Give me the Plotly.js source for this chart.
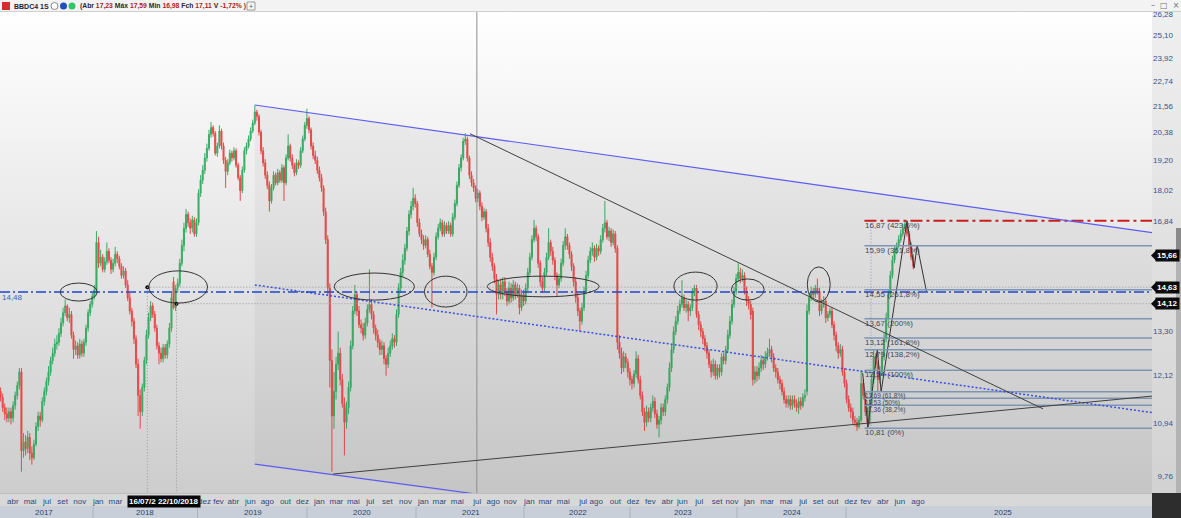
<!DOCTYPE html>
<html><head><meta charset="utf-8">
<script src="https://cdn.plot.ly/plotly-3.0.1.min.js"></script>
<style>
html,body{margin:0;padding:0;background:#fff;overflow:hidden;}
#wrap{position:relative;width:1181px;height:518px;}
.bg{position:absolute;box-sizing:border-box;}
#chart{position:absolute;left:0;top:0;width:1181px;height:518px;}
</style></head><body>
<div id="wrap">
 <div class="bg" style="left:0;top:0;width:1181px;height:12px;background:#f3f3f3;border-bottom:1px solid #cfcfcf"></div>
 <div class="bg" style="left:0;top:12px;width:1152px;height:481px;background:linear-gradient(#ffffff,#cdcdcd)"></div>
 <div class="bg" style="left:1152px;top:12px;width:29px;height:481px;background:linear-gradient(#efefef,#d2d2d2)"></div>
 <div class="bg" style="left:0;top:493px;width:1152px;height:13px;background:#d8d8d8;border-top:1px solid #bdbdbd"></div>
 <div class="bg" style="left:0;top:506px;width:1152px;height:12px;background:#c8cfd8"></div>
 <div class="bg" style="left:1152px;top:493px;width:29px;height:25px;background:#2d2d2d"></div>
 <div class="bg" style="left:1176px;top:228px;width:5px;height:265px;background:#b3b3b3"></div>
 <div class="bg" style="left:1176px;top:228px;width:5px;height:30px;background:#8a8a8a"></div>
 <div id="chart"></div>
</div>
<script>
// ---------------- weekly candles (BBDC4, 1S) ----------------
const firstWeek = '2017-03-10';
const opens = [
11.70,11.55,11.30,11.15,11.05,11.20,11.05,11.35,11.60,11.85,
12.20,10.30,10.50,10.35,10.60,10.25,10.15,10.45,10.85,11.10,
11.00,11.45,11.70,11.95,12.20,12.50,12.70,12.95,13.00,13.25,
13.55,13.85,14.05,13.70,13.80,13.20,12.80,12.90,12.65,12.95,
12.70,13.00,13.40,13.85,14.10,14.35,14.55,16.10,15.40,15.60,
15.20,15.45,15.80,15.50,15.20,15.40,15.70,15.55,15.30,15.00,
15.15,14.70,14.30,13.90,13.60,13.10,12.40,11.60,11.20,11.80,
12.50,13.20,13.70,14.05,13.80,13.40,12.90,12.70,12.55,12.85,
12.65,12.95,13.40,14.80,14.00,14.60,14.75,15.40,16.00,16.60,
17.10,16.80,16.60,16.90,16.40,16.80,17.90,18.40,18.80,19.30,
19.70,20.30,20.60,20.35,19.50,19.80,20.45,19.80,19.20,18.75,
19.10,19.50,19.30,19.60,19.00,18.50,18.00,18.80,19.60,19.80,
20.10,20.45,20.80,21.30,21.10,20.40,19.60,19.10,18.60,18.20,
17.60,18.10,18.60,18.30,18.70,18.40,18.90,18.30,19.30,19.80,
19.30,19.00,18.70,19.10,19.00,19.60,20.10,20.70,21.00,20.50,
19.80,19.40,19.20,18.80,18.50,18.10,17.20,16.20,14.60,12.50,
11.10,11.70,12.40,12.70,12.00,11.40,10.95,11.30,11.80,12.90,
13.90,14.40,13.90,13.50,13.40,13.20,13.55,13.95,14.10,13.80,
13.40,13.20,13.00,12.80,12.90,12.55,12.40,12.70,12.90,13.10,
13.00,13.80,14.60,15.10,15.50,15.90,16.50,17.10,17.40,17.70,
17.50,16.80,16.40,16.20,16.00,16.20,15.70,15.30,15.10,15.60,
16.30,16.60,16.80,16.40,16.70,16.50,16.70,16.40,17.00,17.50,
18.20,18.90,19.30,20.00,20.10,19.30,18.60,18.30,18.10,17.70,
17.90,17.40,17.00,17.20,16.60,16.10,15.60,15.30,14.90,14.40,
14.70,14.40,14.80,14.50,14.20,14.60,14.30,14.70,14.40,14.60,
14.00,14.40,14.20,14.60,15.10,15.60,16.20,16.60,16.30,15.40,
14.80,14.60,15.10,15.60,16.10,15.80,15.50,15.00,14.70,14.90,
15.40,16.00,16.30,16.00,15.70,15.30,14.80,14.30,13.90,13.60,
14.00,14.50,15.00,15.50,15.80,15.90,15.60,15.90,15.80,16.20,
16.60,16.80,16.30,16.50,16.10,16.40,15.90,13.00,12.70,12.30,
12.60,12.45,12.20,12.00,11.90,12.15,12.55,12.00,11.60,11.20,
10.95,11.20,11.05,11.30,11.45,11.15,10.90,11.00,11.30,11.20,
11.50,11.80,12.30,12.80,13.30,13.60,13.90,14.10,14.30,14.00,
14.10,13.90,14.00,14.50,14.60,13.80,13.50,13.30,13.10,12.90,
12.70,12.40,12.20,12.40,12.10,12.30,12.20,12.60,12.50,12.80,
13.20,13.60,14.10,14.50,14.90,15.10,14.90,15.00,14.50,14.20,
14.10,13.90,12.00,12.20,12.10,12.30,12.50,12.40,12.60,12.70,
12.80,12.60,12.30,12.20,12.00,11.90,11.70,11.50,11.40,11.50,
11.35,11.50,11.40,11.30,11.45,11.35,11.55,11.70,13.90,14.30,
14.50,14.40,14.60,14.50,13.90,14.10,14.20,13.70,13.80,13.90,
13.50,13.20,12.90,12.70,12.80,12.20,11.90,11.50,11.30,11.20,
11.00,10.95,10.85,11.00,11.90,11.60,11.20,10.95,11.40,12.00,
12.60,12.40,12.00,12.20,12.60,13.10,13.70,14.40,15.00,15.50,
15.80,16.00,16.20,16.40,16.60,16.75,16.40,16.00,15.60];
const highs = [
11.80,11.65,11.40,11.30,11.30,11.30,11.45,11.70,11.95,12.30,
12.30,10.70,10.65,10.75,10.70,10.40,10.55,10.95,11.20,11.20,
11.55,11.80,12.05,12.35,12.60,12.85,13.10,13.20,13.40,13.70,
14.00,14.25,14.10,14.00,13.90,13.30,13.05,13.00,13.10,13.05,
13.10,13.50,13.95,14.20,14.45,14.70,16.50,16.30,15.85,15.70,
15.60,16.10,15.90,15.60,15.55,15.95,15.80,15.65,15.40,15.30,
15.25,14.85,14.45,14.00,13.70,13.20,12.55,11.75,11.90,12.60,
13.35,13.85,14.20,14.15,13.90,13.50,13.00,12.85,12.95,12.95,
13.05,13.55,14.45,14.95,14.70,14.90,15.55,16.20,16.80,17.30,
17.20,16.95,17.05,17.00,16.95,18.05,18.60,19.00,19.50,19.90,
20.50,20.85,20.70,20.45,19.95,20.70,20.55,19.95,19.35,19.25,
19.65,19.60,19.75,19.70,19.10,18.60,18.95,19.75,19.95,20.25,
20.60,20.95,21.60,21.40,21.20,20.50,19.75,19.25,18.75,18.35,
18.25,18.75,18.70,18.85,18.80,19.05,19.00,19.45,20.30,19.90,
19.45,19.10,19.25,19.20,19.75,20.25,20.85,21.45,21.10,20.60,
19.95,19.60,19.35,18.95,18.65,18.20,17.35,16.35,14.75,12.80,
12.20,12.60,13.30,12.85,12.15,11.55,11.45,11.95,13.05,14.05,
14.70,14.50,14.05,13.65,13.55,13.70,14.10,15.20,14.25,13.90,
13.50,13.35,13.10,13.05,13.00,12.65,12.85,13.05,13.25,13.20,
13.95,14.75,15.25,15.70,16.05,16.65,17.25,17.60,18.10,17.85,
17.60,16.95,16.55,16.35,16.35,16.30,15.85,15.40,15.75,16.45,
16.75,16.95,16.90,16.85,16.80,16.85,16.80,17.15,17.65,18.35,
19.05,19.45,20.15,20.35,20.20,19.40,18.75,18.45,18.20,18.05,
18.00,17.55,17.35,17.30,16.75,16.25,15.75,15.40,15.05,14.85,
14.90,14.95,14.95,14.60,14.80,14.75,14.85,14.80,14.75,14.70,
14.55,14.55,14.75,15.25,15.75,16.35,16.90,16.70,16.40,15.50,
14.95,15.25,15.75,16.60,16.20,15.95,15.60,15.10,15.05,15.55,
16.15,16.60,16.40,16.10,15.80,15.40,14.95,14.45,14.00,14.15,
14.65,15.15,15.65,15.95,16.10,16.00,16.05,16.00,16.35,16.75,
17.60,16.90,16.65,16.60,16.55,16.50,16.00,13.20,12.85,12.75,
12.70,12.55,12.30,12.10,12.25,12.75,12.65,12.10,11.70,11.30,
11.35,11.30,11.40,11.60,11.55,11.25,11.10,11.40,11.40,11.60,
11.90,12.45,12.95,13.45,13.75,14.05,14.25,14.85,14.40,14.25,
14.20,14.10,14.60,14.70,14.70,13.90,13.60,13.40,13.20,13.00,
12.80,12.50,12.55,12.50,12.40,12.40,12.70,12.70,12.90,13.35,
13.75,14.25,14.65,15.05,15.40,15.25,15.20,15.10,14.65,14.35,
14.20,14.00,12.35,12.35,12.45,12.65,12.60,12.75,12.85,13.10,
12.90,12.70,12.40,12.30,12.10,12.00,11.80,11.60,11.60,11.60,
11.60,11.60,11.50,11.55,11.55,11.65,11.75,14.10,14.45,14.65,
14.60,14.70,14.90,14.60,14.25,14.35,14.30,13.90,14.00,14.00,
13.60,13.30,13.00,12.95,12.90,12.30,12.00,11.60,11.40,11.30,
11.10,11.05,11.10,12.25,12.00,11.70,11.30,11.50,12.15,12.80,
12.70,12.50,12.35,12.75,13.25,13.85,14.55,15.15,15.65,15.95,
16.10,16.35,16.55,16.75,16.87,16.80,16.50,16.10,15.70];
const lows = [
11.45,11.20,11.00,10.95,10.95,10.90,10.95,11.25,11.50,11.75,
9.85,10.15,10.20,10.25,10.10,10.00,10.10,10.40,10.75,10.85,
10.95,11.35,11.60,11.85,12.10,12.40,12.60,12.80,12.90,13.15,
13.45,13.75,13.60,13.55,13.10,12.55,12.65,12.55,12.55,12.60,
12.60,12.90,13.30,13.75,14.00,14.25,14.45,15.25,15.30,15.10,
15.10,15.35,15.40,15.05,15.10,15.30,15.40,15.20,14.90,14.90,
14.60,14.20,13.80,13.45,12.95,12.30,11.10,10.80,11.10,11.70,
12.40,13.10,13.60,13.70,13.30,12.80,12.40,12.45,12.45,12.55,
12.55,12.85,13.30,13.95,13.90,14.45,14.65,15.30,15.80,16.45,
16.65,16.40,16.45,16.30,16.30,16.70,17.75,18.25,18.65,19.15,
19.60,20.15,20.20,19.40,19.35,19.70,19.65,19.05,18.10,18.60,
19.00,19.15,19.20,18.90,18.40,17.60,17.90,18.70,19.45,19.70,
20.00,20.35,20.70,20.90,20.25,19.45,18.95,18.45,18.05,17.20,
17.50,18.00,18.20,18.20,18.30,18.30,17.60,18.20,19.20,19.15,
18.85,18.55,18.60,18.85,18.90,19.50,20.00,20.55,20.35,19.65,
19.25,19.05,18.65,18.35,17.95,17.05,16.05,14.40,11.80,9.85,
10.80,11.50,12.25,11.85,11.30,10.20,10.80,11.15,11.70,12.80,
13.80,13.75,13.40,13.25,13.05,13.10,13.45,13.85,13.65,13.25,
13.05,12.85,12.65,12.65,12.40,12.10,12.30,12.60,12.80,12.85,
12.90,13.70,14.45,14.95,15.35,15.80,16.35,16.95,17.25,17.35,
16.65,16.30,16.05,15.85,15.90,15.60,15.20,14.00,15.00,15.50,
16.20,16.50,16.30,16.30,16.40,16.40,16.30,16.30,16.90,17.40,
18.10,18.75,19.20,19.85,19.15,18.45,18.15,17.95,17.55,17.55,
17.25,16.85,16.90,16.45,15.95,15.45,15.15,14.75,13.80,14.25,
14.25,14.25,14.35,14.05,14.10,14.15,14.20,14.25,14.30,13.80,
13.90,14.05,14.10,14.50,15.00,15.50,16.10,16.15,15.25,14.65,
14.45,14.50,15.00,15.50,15.65,15.35,14.85,14.35,14.60,14.80,
15.30,15.85,15.85,15.55,15.15,14.65,14.15,13.75,13.30,13.50,
13.90,14.40,14.90,15.40,15.65,15.45,15.50,15.65,15.70,16.10,
16.45,16.20,16.15,15.95,16.00,15.75,12.80,12.55,12.15,12.20,
12.30,12.05,11.85,11.75,11.80,12.05,11.90,11.50,11.10,10.75,
10.85,10.95,10.95,11.20,11.05,10.80,10.60,10.90,11.10,11.10,
11.40,11.70,12.20,12.70,13.20,13.50,13.80,14.00,13.90,13.85,
13.60,13.75,13.90,14.35,13.70,13.35,13.15,12.95,12.75,12.55,
12.30,12.05,12.10,12.00,12.00,12.05,12.10,12.40,12.40,12.70,
13.10,13.50,14.00,14.40,14.80,14.75,14.80,14.40,14.05,13.95,
13.65,11.85,11.90,11.95,12.00,12.20,12.25,12.30,12.50,12.60,
12.45,12.20,12.05,11.90,11.75,11.60,11.40,11.30,11.30,11.25,
11.25,11.30,11.20,11.15,11.25,11.30,11.45,11.60,13.80,14.20,
14.25,14.30,14.40,13.75,13.80,14.00,13.55,13.60,13.70,13.40,
13.05,12.75,12.55,12.60,12.10,11.80,11.40,11.20,11.05,10.90,
10.85,10.75,10.80,10.95,11.50,11.10,10.81,10.90,11.30,11.90,
12.30,11.70,11.90,12.10,12.50,13.00,13.60,14.30,14.90,15.40,
15.70,15.90,16.10,16.30,16.50,16.30,15.90,15.50,15.20];
const closes = [
11.55,11.30,11.15,11.05,11.20,11.05,11.35,11.60,11.85,12.20,
10.30,10.50,10.35,10.60,10.25,10.15,10.45,10.85,11.10,11.00,
11.45,11.70,11.95,12.20,12.50,12.70,12.95,13.00,13.25,13.55,
13.85,14.05,13.70,13.80,13.20,12.80,12.90,12.65,12.95,12.70,
13.00,13.40,13.85,14.10,14.35,14.55,16.10,15.40,15.60,15.20,
15.45,15.80,15.50,15.20,15.40,15.70,15.55,15.30,15.00,15.15,
14.70,14.30,13.90,13.60,13.10,12.40,11.60,11.20,11.80,12.50,
13.20,13.70,14.05,13.80,13.40,12.90,12.70,12.55,12.85,12.65,
12.95,13.40,14.30,14.00,14.60,14.75,15.40,16.00,16.60,17.10,
16.80,16.60,16.90,16.40,16.80,17.90,18.40,18.80,19.30,19.70,
20.30,20.60,20.35,19.50,19.80,20.45,19.80,19.20,18.75,19.10,
19.50,19.30,19.60,19.00,18.50,18.00,18.80,19.60,19.80,20.10,
20.45,20.80,21.30,21.10,20.40,19.60,19.10,18.60,18.20,17.60,
18.10,18.60,18.30,18.70,18.40,18.90,18.30,19.30,19.80,19.30,
19.00,18.70,19.10,19.00,19.60,20.10,20.70,21.00,20.50,19.80,
19.40,19.20,18.80,18.50,18.10,17.20,16.20,14.60,12.50,11.10,
11.70,12.40,12.70,12.00,11.40,10.95,11.30,11.80,12.90,13.90,
14.40,13.90,13.50,13.40,13.20,13.55,13.95,14.10,13.80,13.40,
13.20,13.00,12.80,12.90,12.55,12.40,12.70,12.90,13.10,13.00,
13.80,14.60,15.10,15.50,15.90,16.50,17.10,17.40,17.70,17.50,
16.80,16.40,16.20,16.00,16.20,15.70,15.30,15.10,15.60,16.30,
16.60,16.80,16.40,16.70,16.50,16.70,16.40,17.00,17.50,18.20,
18.90,19.30,20.00,20.10,19.30,18.60,18.30,18.10,17.70,17.90,
17.40,17.00,17.20,16.60,16.10,15.60,15.30,14.90,14.40,14.70,
14.40,14.80,14.50,14.20,14.60,14.30,14.70,14.40,14.60,14.00,
14.40,14.20,14.60,15.10,15.60,16.20,16.60,16.30,15.40,14.80,
14.60,15.10,15.60,16.10,15.80,15.50,15.00,14.70,14.90,15.40,
16.00,16.30,16.00,15.70,15.30,14.80,14.30,13.90,13.60,14.00,
14.50,15.00,15.50,15.80,15.90,15.60,15.90,15.80,16.20,16.60,
16.80,16.30,16.50,16.10,16.40,15.90,13.00,12.70,12.30,12.60,
12.45,12.20,12.00,11.90,12.15,12.55,12.00,11.60,11.20,10.95,
11.20,11.05,11.30,11.45,11.15,10.90,11.00,11.30,11.20,11.50,
11.80,12.30,12.80,13.30,13.60,13.90,14.10,14.30,14.00,14.10,
13.90,14.00,14.50,14.60,13.80,13.50,13.30,13.10,12.90,12.70,
12.40,12.20,12.40,12.10,12.30,12.20,12.60,12.50,12.80,13.20,
13.60,14.10,14.50,14.90,15.10,14.90,15.00,14.50,14.20,14.10,
13.80,12.00,12.20,12.10,12.30,12.50,12.40,12.60,12.70,12.80,
12.60,12.30,12.20,12.00,11.90,11.70,11.50,11.40,11.50,11.35,
11.50,11.40,11.30,11.45,11.35,11.55,11.60,13.90,14.30,14.50,
14.40,14.60,14.50,13.90,14.10,14.20,13.70,13.80,13.90,13.50,
13.20,12.90,12.70,12.80,12.20,11.90,11.50,11.30,11.20,11.00,
10.95,10.85,11.00,11.90,11.60,11.20,10.95,11.40,12.00,12.60,
12.40,12.00,12.20,12.60,13.10,13.70,14.40,15.00,15.50,15.80,
16.00,16.20,16.40,16.60,16.75,16.40,16.00,15.60,15.30];

// ---------------- axis labels ----------------
const monthTickDates = ['2017-04-20','2017-06-17','2017-08-13','2017-10-04','2017-12-01','2018-02-01','2018-03-31','2019-01-24','2019-03-12','2019-05-01','2019-06-27','2019-08-23','2019-10-23','2019-12-19','2020-02-14','2020-04-11','2020-06-07','2020-08-03','2020-09-29','2020-11-29','2021-01-28','2021-03-23','2021-05-22','2021-07-28','2021-09-20','2021-11-16','2022-01-19','2022-03-14','2022-05-13','2022-07-19','2022-09-01','2022-11-04','2023-01-03','2023-03-02','2023-04-28','2023-06-17','2023-08-13','2023-10-12','2023-12-01','2024-01-28','2024-03-28','2024-05-31','2024-07-27','2024-09-15','2024-11-04','2025-01-04','2025-02-23','2025-04-21','2025-06-17','2025-08-17'];
const monthTickText = ['abr','mai','jul','set','nov','jan','mar','dez','fev','abr','jun','ago','out','dez','jan','mar','mai','jul','set','nov','jan','mar','mai','jul','ago','nov','jan','mar','mai','jul','ago','out','dez','fev','abr','jun','jul','set','nov','jan','mar','mai','jul','set','out','dez','fev','abr','jun','ago'];
const yearLabels = ['2017','2018','2019','2020','2021','2022','2023','2024','2025'];
const priceTicks = [9.76,10.94,12.12,13.30,14.48,15.66,16.84,18.02,19.20,20.38,21.56,22.74,23.92,25.10,26.28];

// ---------------- drawings ----------------
const topLineDates = ['2019-07-12','2027-10-22'], topLinePrices = [21.62,16.43];
const botLineDates = ['2019-07-12','2021-07-24'], botLinePrices = [10.01,9.39];
const dotLineDates = ['2019-07-12','2027-10-22'], dotLinePrices = [14.70,11.17];
const downLineDates = ['2021-07-04','2026-10-11'], downLinePrices = [20.33,11.27];
const upLineDates = ['2020-03-31','2027-10-22'], upLinePrices = [9.80,11.59];
const channelDates = ['2019-07-12','2027-10-22','2027-10-22','2019-07-12'];
const channelPrices = [21.62,16.43,7.61,10.01];
const hLevel = 14.48;
const zigDates = ['2025-02-12','2025-03-02','2025-04-02','2025-04-15','2025-07-11','2025-08-04','2025-08-14','2025-09-14'];
const zigPrices = [12.17,10.84,12.81,11.69,16.87,15.24,16.01,14.51];
const fibStart = '2025-02-18', fibVert = '2025-03-12', rightEnd = '2027-10-22';
const fibLevels = [16.87,15.99,14.55,13.67,13.12,12.79,12.24,11.69,11.53,11.36,10.81];
const fibLabels = ['16,87 (423,6%)','15,99 (361,8%)','14,55 (261,8%)','13,67 (200%)','13,12 (161,8%)','12,79 (138,2%)','12,24 (100%)','11,69 (61,8%)','11,53 (50%)','11,36 (38,2%)','10,81 (0%)'];
const markDates = ['2018-07-16','2018-10-22'], markPrices = [14.63,14.12];
const crossDate = '2021-07-27';
const ellX0 = ['2017-09-26','2018-07-21','2020-04-04','2021-02-01','2021-08-31','2023-05-20','2023-11-29','2024-08-10'];
const ellX1 = ['2018-01-29','2019-02-03','2020-12-29','2021-06-24','2022-09-11','2023-10-12','2024-03-18','2024-10-26'];
const ellP0 = [14.20,14.14,14.23,14.02,14.33,14.23,14.23,14.17];
const ellP1 = [14.76,15.15,15.08,14.98,14.98,15.11,14.89,15.28];
const boxPrices = [15.66,14.63,14.12];

// ---------------- build ----------------
const dates = closes.map((_, i) => new Date(Date.parse(firstWeek + 'T00:00:00Z') + i * 7 * 86400000).toISOString().slice(0, 10));
const fmt = v => v.toFixed(2).replace('.', ',');
const PW = 1152, PH = 481;
const PX = x => x / PW;
const PY = y => (493 - y) / PH;
const L10 = v => Math.log10(v);
const FONT = 'Liberation Sans, Arial, sans-serif';

const traces = [
  {type:'scatter', x:channelDates, y:channelPrices, mode:'lines', fill:'toself',
   fillcolor:'rgba(90,90,90,0.06)', line:{width:0}, hoverinfo:'skip'},
  {type:'candlestick', x:dates, open:opens, high:highs, low:lows, close:closes,
   increasing:{line:{color:'#2aa857', width:1}, fillcolor:'#2aa857'},
   decreasing:{line:{color:'#ea3c3c', width:1}, fillcolor:'#ea3c3c'},
   whiskerwidth:0, hoverinfo:'none', opacity:0.92},
  {type:'scatter', x:zigDates, y:zigPrices, mode:'lines', line:{color:'#333333', width:1}, hoverinfo:'skip'},
  {type:'scatter', x:markDates, y:markPrices, mode:'markers', marker:{color:'#000', size:4}, hoverinfo:'skip'}
];

const shapes = [];
const ln = (x0,y0,x1,y1,color,width,dash,yref) => shapes.push({type:'line', xref:'x', yref:yref||'y', x0, y0, x1, y1, line:{color, width, dash:dash||'solid'}});
ln(crossDate, 0, crossDate, 1, '#8d8d8d', 1, 'solid', 'paper');
ln(markDates[0], markPrices[0], rightEnd, markPrices[0], '#9a9a9a', 1, '1px,2px');
ln(markDates[1], markPrices[1], rightEnd, markPrices[1], '#9a9a9a', 1, '1px,2px');
ln(markDates[0], markPrices[0], markDates[0], 9.0, '#9a9a9a', 1, '1px,2px');
ln(markDates[1], markPrices[1], markDates[1], 9.0, '#9a9a9a', 1, '1px,2px');
ln(fibVert, fibLevels[0], fibVert, fibLevels[fibLevels.length-1], '#8a9ab0', 1, '1px,2px');
fibLevels.forEach((v, i) => {
  if (i === 0) ln(fibStart, v, rightEnd, v, '#c81e1e', 2, '12px,4px,3px,4px');
  else ln(fibStart, v, rightEnd, v, '#7d95b3', 1.5);
});
ln(topLineDates[0], topLinePrices[0], topLineDates[1], topLinePrices[1], '#5b5bf5', 1.2);
ln(botLineDates[0], botLinePrices[0], botLineDates[1], botLinePrices[1], '#5b5bf5', 1.2);
ln(dotLineDates[0], dotLinePrices[0], dotLineDates[1], dotLinePrices[1], '#3a4fe6', 1.5, '2px,2px');
ln(downLineDates[0], downLinePrices[0], downLineDates[1], downLinePrices[1], '#404040', 1);
ln(upLineDates[0], upLinePrices[0], upLineDates[1], upLinePrices[1], '#404040', 1);
shapes.push({type:'line', xref:'paper', yref:'y', x0:0, x1:1, y0:hLevel, y1:hLevel, line:{color:'#1f45cf', width:1.5, dash:'10px,3px,2px,3px'}});
ellX0.forEach((d, i) => shapes.push({type:'circle', xref:'x', yref:'y', x0:d, x1:ellX1[i], y0:ellP0[i], y1:ellP1[i], line:{color:'#333333', width:1}}));
// header decorations
shapes.push({type:'rect', xref:'paper', yref:'paper', x0:PX(2), x1:PX(10), y0:PY(10), y1:PY(2), fillcolor:'#d42c2c', line:{width:0}});
shapes.push({type:'circle', xref:'paper', yref:'paper', x0:PX(51), x1:PX(58), y0:PY(9.5), y1:PY(2.5), fillcolor:'#ffffff', line:{color:'#8a8a8a', width:1}});
shapes.push({type:'circle', xref:'paper', yref:'paper', x0:PX(60), x1:PX(67), y0:PY(9.5), y1:PY(2.5), fillcolor:'#1f4fbf', line:{width:0}});
shapes.push({type:'circle', xref:'paper', yref:'paper', x0:PX(68.5), x1:PX(75.5), y0:PY(9.5), y1:PY(2.5), fillcolor:'#34c46a', line:{width:0}});
shapes.push({type:'rect', xref:'paper', yref:'paper', x0:PX(247), x1:PX(255), y0:PY(10), y1:PY(2), fillcolor:'#f6f6f6', line:{color:'#9a9a9a', width:1}});
[93,197.5,307,416,524,630,737,846].forEach(x => shapes.push({type:'line', xref:'paper', yref:'paper', x0:PX(x), x1:PX(x), y0:PY(507), y1:PY(518), line:{color:'#aab3c0', width:1}}));
boxPrices.forEach(v => shapes.push({type:'path', xref:'paper', yref:'y', xsizemode:'pixel', ysizemode:'pixel', xanchor:1, yanchor:v, path:'M-1,0 L4,5 L4,-5 Z', fillcolor:'#0b0b0b', line:{width:0}}));

const annotations = [];
fibLevels.forEach((v, i) => {
  const tight = (v > 11.3 && v < 11.75);
  annotations.push({xref:'x', yref:'y', x:fibStart, y:L10(v), xanchor:'left', yanchor:'top', showarrow:false, text:fibLabels[i],
    font:{family:FONT, size: tight ? 6.5 : 8, color:'#3f4859'}, borderpad:0, yshift: tight ? 0.5 : 1});
});
annotations.push({xref:'paper', yref:'y', x:0, y:L10(hLevel), xanchor:'left', yanchor:'top', xshift:1, showarrow:false, text:fmt(hLevel), font:{family:FONT, size:8, color:'#3a5cc4'}, borderpad:0});
boxPrices.forEach(v => annotations.push({xref:'paper', yref:'y', x:1, y:L10(v), xanchor:'left', yanchor:'middle', xshift:3, showarrow:false, text:'<b>'+fmt(v)+'</b>', bgcolor:'#0b0b0b', font:{family:FONT, size:8, color:'#ffffff'}, borderpad:1}));
const yearX = [44,145,252.6,361.7,470.7,577.9,682.6,792.4,1002.9];
yearLabels.forEach((t, i) => annotations.push({xref:'paper', yref:'paper', x:PX(yearX[i]), y:PY(512.5), xanchor:'center', yanchor:'middle', showarrow:false, text:t, font:{family:FONT, size:8, color:'#2b4670'}}));
annotations.push({xref:'paper', yref:'paper', x:PX(163.5), y:PY(501.5), xanchor:'center', yanchor:'middle', showarrow:false, text:'<b>16/07/2 22/10/2018</b>', bgcolor:'#050505', font:{family:FONT, size:8, color:'#ffffff'}, borderpad:1});
// header text
annotations.push({xref:'paper', yref:'paper', x:PX(12), y:PY(6), xanchor:'left', yanchor:'middle', showarrow:false, text:'<b>BBDC4 1S</b>', font:{family:FONT, size:7, color:'#1c1c38'}});
const R = s => '<span style="color:#b01c1c">' + s + '</span>';
annotations.push({xref:'paper', yref:'paper', x:PX(78), y:PY(6), xanchor:'left', yanchor:'middle', showarrow:false, width:166, align:'left',
  text:'<b>(Abr ' + R('17,23') + ' Máx ' + R('17,59') + ' Min ' + R('16,98') + ' Fch ' + R('17,11') + ' V ' + R('-1,72% )') + '</b>',
  font:{family:FONT, size:6.8, color:'#2a2a2a'}});
annotations.push({xref:'paper', yref:'paper', x:PX(251), y:PY(6), xanchor:'center', yanchor:'middle', showarrow:false, text:'+', font:{family:FONT, size:7, color:'#555'}});
annotations.push({xref:'paper', yref:'paper', x:PX(1165), y:PY(5.5), xanchor:'center', yanchor:'middle', showarrow:false, text:'–  □  ×', font:{family:'DejaVu Sans, sans-serif', size:8, color:'#707070'}});

const layout = {
  width:1181, height:518,
  margin:{l:0, r:29, t:12, b:25, pad:0},
  paper_bgcolor:'rgba(0,0,0,0)', plot_bgcolor:'rgba(0,0,0,0)',
  showlegend:false, dragmode:false, hovermode:false,
  xaxis:{type:'date', range:['2017-03-08','2027-10-12'], rangeslider:{visible:false},
    showgrid:false, zeroline:false, showline:false, ticks:'', tickangle:0,
    tickvals:monthTickDates, ticktext:monthTickText, automargin:false, ticklabelstandoff:2,
    tickfont:{family:FONT, size:8, color:'#2d4a7a'}, fixedrange:true},
  yaxis:{type:'log', side:'right', range:[L10(9.41), L10(26.39)],
    showgrid:false, zeroline:false, showline:false, ticks:'', automargin:false,
    tickvals:priceTicks,
    ticktext:priceTicks.map(v => boxPrices.some(b => Math.abs(b - v) < 0.2) ? '' : (v < 10 ? '\u2007' : '') + fmt(v)),
    tickfont:{family:FONT, size:8, color:'#36548a'}, fixedrange:true},
  shapes, annotations
};

Plotly.newPlot('chart', traces, layout, {staticPlot:true, displayModeBar:false});
</script>
</body></html>
